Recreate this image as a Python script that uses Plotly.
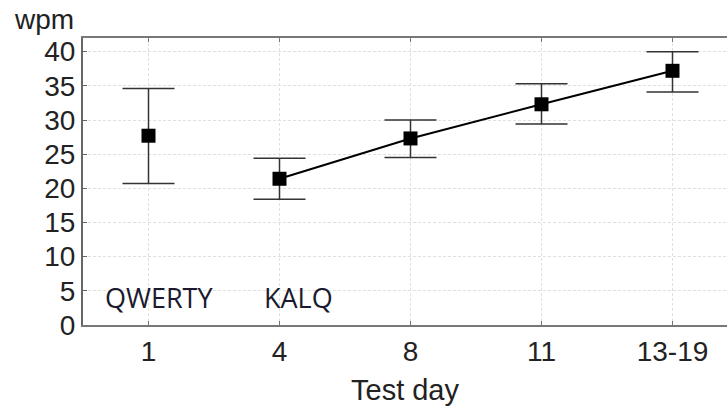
import plotly.graph_objects as go

days = ["1", "4", "8", "11", "13-19"]
mean_wpm = [27.7, 21.4, 27.3, 32.3, 37.2]
upper_wpm = [34.6, 24.4, 30.0, 35.3, 40.0]
lower_wpm = [20.7, 18.4, 24.5, 29.4, 34.1]
groups = ["QWERTY", "KALQ", "KALQ", "KALQ", "KALQ"]
yticks = [0, 5, 10, 15, 20, 25, 30, 35, 40]

err_plus = [u - m for u, m in zip(upper_wpm, mean_wpm)]
err_minus = [m - l for m, l in zip(mean_wpm, lower_wpm)]

fig = go.Figure()
for g in ["QWERTY", "KALQ"]:
    idx = [i for i, gg in enumerate(groups) if gg == g]
    fig.add_trace(go.Scatter(
        x=[days[i] for i in idx],
        y=[mean_wpm[i] for i in idx],
        mode="lines+markers",
        line=dict(color="black", width=2),
        marker=dict(symbol="square", size=14, color="black"),
        error_y=dict(type="data", symmetric=False,
                     array=[err_plus[i] for i in idx],
                     arrayminus=[err_minus[i] for i in idx],
                     width=26, thickness=1.5, color="#333333"),
        showlegend=False,
    ))

font_main = "Liberation Sans, Arial, sans-serif"
fig.update_layout(
    width=727, height=409,
    margin=dict(l=83, r=0, t=38, b=84),
    plot_bgcolor="white", paper_bgcolor="white",
    font=dict(family=font_main, size=28, color="#222222"),
    xaxis=dict(
        type="category", categoryorder="array", categoryarray=days,
        range=[-0.5, 4.416],
        showline=True, linecolor="#777777", linewidth=2,
        mirror="ticks", ticks="inside", ticklen=4, tickcolor="#777777",
        showgrid=True, gridcolor="#e0e0e0", griddash="3px,2px", gridwidth=1,
        title=dict(text="Test day", standoff=14, font=dict(size=29)),
        tickfont=dict(size=28),
    ),
    yaxis=dict(
        range=[0, 42], tickvals=yticks,
        showline=True, linecolor="#666666", linewidth=2,
        ticks="inside", ticklen=4, tickcolor="#666666",
        showgrid=True, gridcolor="#e0e0e0", griddash="3px,2px", gridwidth=1,
        zeroline=False, tickfont=dict(size=28),
    ),
)

fig.add_annotation(text="wpm", xref="paper", yref="paper", x=-0.111, y=1.063,
                   xanchor="left", yanchor="middle", showarrow=False,
                   font=dict(size=28, family=font_main, color="#222222"))
for label, xi, xs in [("QWERTY", 0, 10), ("KALQ", 1, 19)]:
    fig.add_annotation(text=label, x=xi, y=4, xref="x", yref="y", xshift=xs,
                       showarrow=False,
                       font=dict(size=27, family="Open Sans, sans-serif", color="#1a1a2e"))

fig.write_html("out.html")
